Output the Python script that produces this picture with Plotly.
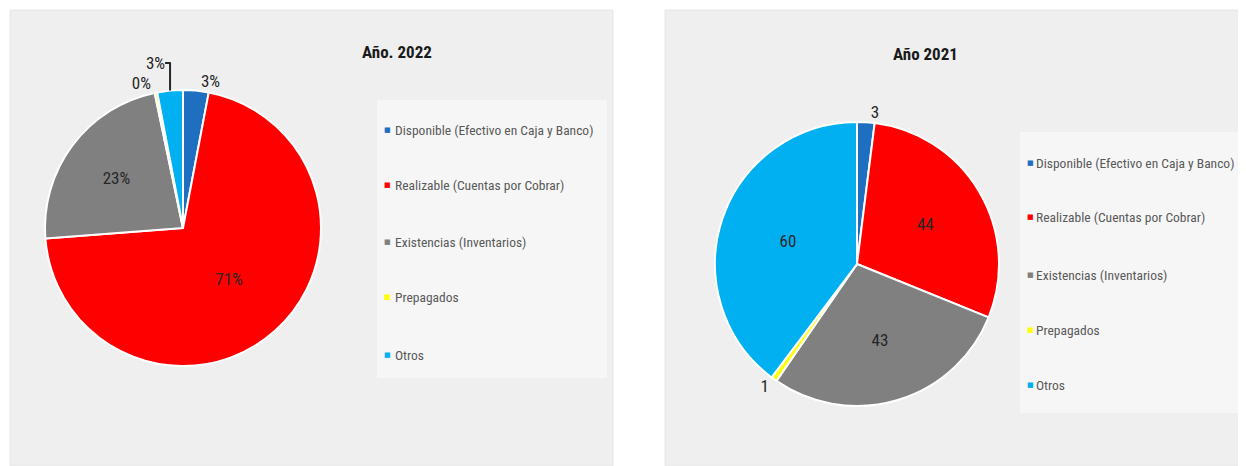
import plotly.graph_objects as go

# page has an 8px body margin, so the figure is drawn 8px in from the window corner
OFF = 8
W, H = 1246 - OFF, 466 - OFF

categories = [
    "Disponible (Efectivo en Caja y Banco)",
    "Realizable (Cuentas por Cobrar)",
    "Existencias (Inventarios)",
    "Prepagados",
    "Otros",
]
legend_labels = [
    "Disponible (Efectivo en Caja y Banco)",
    "Realizable (Cuentas por Cobrar)",
    "Existencias (Inventarios)",
    "Prepagados",
    "Otros",
]
values_2022 = [3, 71, 23, 0.3, 3]
values_2021 = [3, 44, 43, 1, 60]
colors = ["#1F6FC1", "#FF0000", "#808080", "#FFFF00", "#00B0F0"]
title_2022 = "Año. 2022"
title_2021 = "Año 2021"

FONT = "Liberation Sans Narrow, Arial Narrow, Roboto Condensed, Liberation Sans, sans-serif"
LABEL_COLOR = "#262626"


def fx(x):
    return (x - OFF) / W


def fy(y):
    return 1 - (y - OFF) / H


def px_dom(cx, cy, half):
    return dict(x=[fx(cx - half), fx(cx + half)], y=[fy(cy + half), fy(cy - half)])


fig = go.Figure()

# panel backgrounds and legend boxes
fig.add_shape(type="rect", xref="paper", yref="paper",
              x0=fx(10), x1=fx(613), y0=0, y1=fy(10),
              fillcolor="#EFEFEF", line=dict(color="#E6E6E6", width=1), layer="below")
fig.add_shape(type="rect", xref="paper", yref="paper",
              x0=fx(665), x1=1, y0=0, y1=fy(10),
              fillcolor="#EFEFEF", line=dict(color="#E6E6E6", width=1), layer="below")
fig.add_shape(type="rect", xref="paper", yref="paper",
              x0=fx(377), x1=fx(607), y0=fy(378), y1=fy(100),
              fillcolor="#F6F6F6", line=dict(width=0), layer="below")
fig.add_shape(type="rect", xref="paper", yref="paper",
              x0=fx(1020), x1=1, y0=fy(413), y1=fy(132),
              fillcolor="#F6F6F6", line=dict(width=0), layer="below")

fig.add_trace(go.Pie(
    labels=categories, values=values_2022, sort=False, direction="clockwise",
    rotation=0, domain=px_dom(183, 228, 138),
    marker=dict(colors=colors, line=dict(color="white", width=2)),
    texttemplate="%{percent:.0%}", textinfo="percent",
    textposition=["outside", "inside", "inside", "outside", "outside"],
    insidetextorientation="horizontal",
    textfont=dict(family=FONT, size=17, color=LABEL_COLOR),
    showlegend=False, hoverinfo="label+percent",
))

fig.add_trace(go.Pie(
    labels=categories, values=values_2021, sort=False, direction="clockwise",
    rotation=0, domain=px_dom(857, 264, 142),
    marker=dict(colors=colors, line=dict(color="white", width=2)),
    texttemplate="%{value}",
    textposition=["outside", "inside", "inside", "outside", "inside"],
    insidetextorientation="horizontal",
    textfont=dict(family=FONT, size=17, color=LABEL_COLOR),
    showlegend=False, hoverinfo="label+value",
))

annotations = [
    dict(text="<b>" + title_2022 + "</b>", x=fx(360), y=fy(40), xref="paper", yref="paper",
         showarrow=False, font=dict(family=FONT, size=17, color="#1A1A1A")),
    dict(text="<b>" + title_2021 + "</b>", x=fx(960), y=fy(42), xref="paper", yref="paper",
         showarrow=False, font=dict(family=FONT, size=17, color="#1A1A1A")),
]

rows_left = [130, 185, 242, 297, 355]
rows_right = [163, 217, 275, 330, 385]
for lab, col, yl, yr in zip(legend_labels, colors, rows_left, rows_right):
    for xm, xt, yy in ((388, 393, yl), (1030, 1034, yr)):
        annotations.append(dict(
            text="■", x=fx(xm), y=fy(yy), xref="paper", yref="paper",
            xanchor="center", yanchor="middle", showarrow=False,
            font=dict(family="DejaVu Sans", size=7, color=col),
        ))
        annotations.append(dict(
            text=lab, x=fx(xt), y=fy(yy), xref="paper", yref="paper",
            xanchor="left", yanchor="middle", showarrow=False,
            font=dict(family=FONT, size=13.5, color="#595959"),
        ))

fig.update_layout(
    width=W, height=H, margin=dict(l=0, r=0, t=0, b=0),
    paper_bgcolor="white", plot_bgcolor="white",
    annotations=annotations,
)

fig.write_html("out.html")
